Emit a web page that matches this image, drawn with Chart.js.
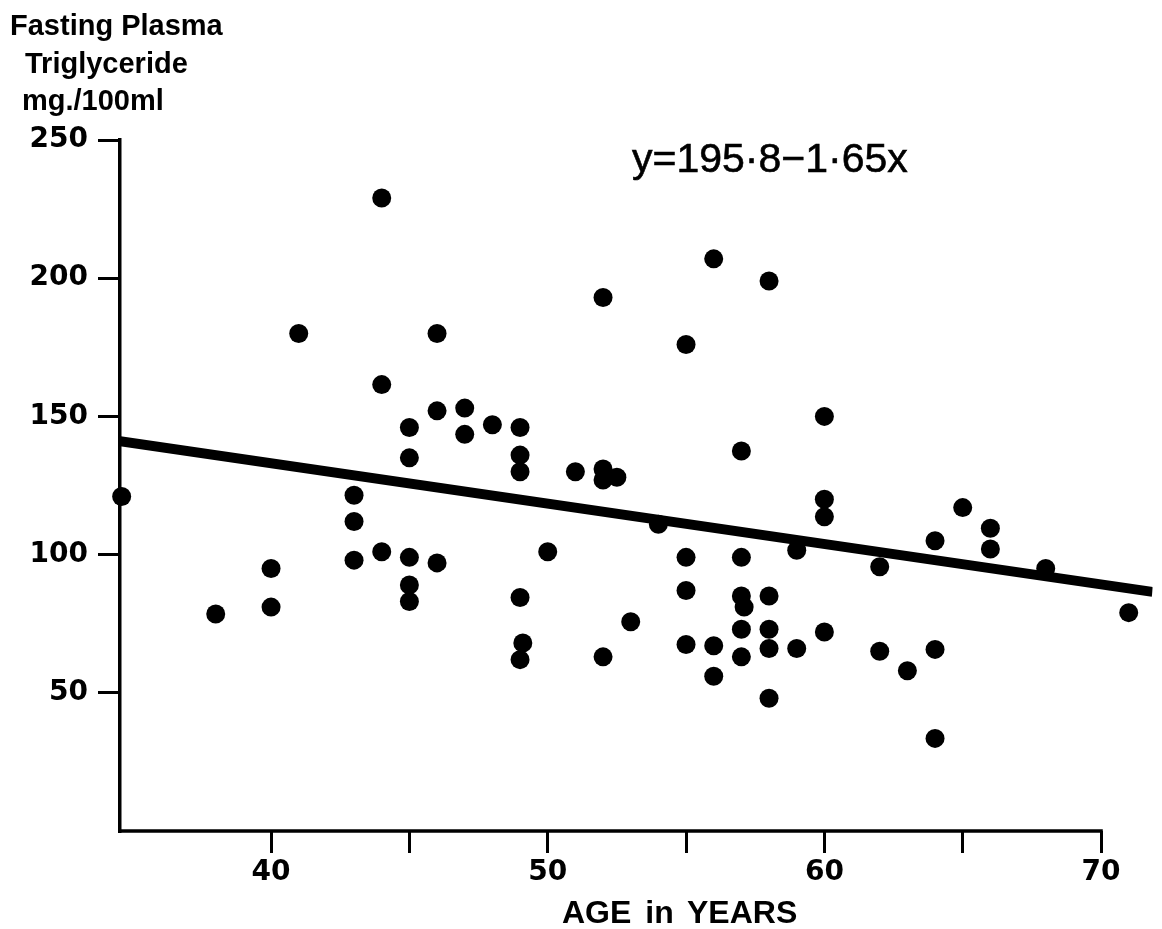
<!DOCTYPE html>
<html>
<head>
<meta charset="utf-8">
<script src="https://cdn.jsdelivr.net/npm/chart.js@4/dist/chart.umd.min.js"></script>
<style>
  html, body { margin: 0; padding: 0; background: #fff; }
  #wrap { position: relative; width: 1162px; height: 929px; }
  .lbl { position: absolute; color: #000; white-space: nowrap; font-family: 'Liberation Sans', Arial, sans-serif; }
  .ylab { font-size: 29px; line-height: 29px; font-weight: bold; }
  #eq { font-size: 41px; line-height: 41px; left: 632px; top: 138px; -webkit-text-stroke: 0.6px #000; }
  #xlab { font-size: 32px; line-height: 32px; font-weight: bold; left: 562px; top: 896px; word-spacing: 5px; }
</style>
</head>
<body>
<div id="wrap">
  <canvas id="grafico"></canvas>
  <div class="lbl ylab" style="left:10px;top:11px">Fasting Plasma</div>
  <div class="lbl ylab" style="left:25px;top:49px">Triglyceride</div>
  <div class="lbl ylab" style="left:22px;top:86px">mg./100ml</div>
  <div class="lbl" id="eq">y=195·8−1·65x</div>
  <div class="lbl" id="xlab">AGE in YEARS</div>
</div>
<script>
// idade (anos) x triglicerídeos em jejum (mg/100ml)
const idades = [
  44, 41, 46, 44, 45, 46, 47, 47, 48, 49, 49, 49, 45, 34.6, 43, 43, 50, 43, 44, 45,
  46, 45, 45, 40, 40, 38, 49, 49.1, 49, 56, 58, 52, 55, 60, 57, 51, 52, 52, 52.5, 54,
  60, 60, 55, 57, 59, 62, 55, 57, 57.1, 58, 53, 52, 55, 56, 57, 57, 58, 58, 59, 60,
  62, 56, 58, 65, 66, 66, 64, 68, 71, 63, 64, 64
];
const triglic = [
  229, 180, 180, 161.5, 146, 152, 153, 143.5, 147, 146, 136, 130, 135, 121, 121.5, 112, 101, 98, 101, 99,
  97, 89, 83, 95, 81, 78.5, 84.5, 68, 62, 207, 199, 193, 176, 150, 137.5, 130, 131, 127, 128, 111,
  120, 113.7, 99, 99, 101.6, 95.6, 87, 85, 81, 85, 75.7, 63, 67.5, 67, 73, 63, 73, 66, 66, 72,
  65, 56, 48, 117, 109.5, 102, 105, 95, 79, 58, 65.7, 33.5
];

// reta de regressão como aparece no desenho (pontas)
const retaX = [34.54, 71.86];
const retaY = [141, 86.5];

// eixos
const xMin = 34.54;
const xMax = 71.86;
const xFimEixo = 70;
const xTicks = [40, 45, 50, 55, 60, 65, 70];
const yTicks = [50, 100, 150, 200, 250];

const pontos = idades.map((x, i) => ({ x: x, y: triglic[i] }));
const reta   = retaX.map((x, i) => ({ x: x, y: retaY[i] }));

// linha do eixo X só até 70, como no original
const eixoX = {
  id: 'eixoX',
  afterDraw(chart) {
    const sx = chart.scales.x, sy = chart.scales.y, ctx = chart.ctx;
    const y0 = sy.getPixelForValue(0);
    ctx.save();
    ctx.strokeStyle = '#000';
    ctx.lineWidth = 3.5;
    ctx.lineCap = 'square';
    ctx.beginPath();
    ctx.moveTo(sx.getPixelForValue(xMin), y0);
    ctx.lineTo(sx.getPixelForValue(xFimEixo), y0);
    ctx.stroke();
    ctx.restore();
  }
};

const fonteTicks = { family: "'DejaVu Sans', sans-serif", size: 28, weight: 'bold' };

new Chart(document.getElementById('grafico').getContext('2d'), {
  type: 'scatter',
  data: {
    datasets: [
      {
        data: pontos,
        backgroundColor: '#000',
        borderWidth: 0,
        pointRadius: 9.5,
        pointHoverRadius: 9.5,
        clip: false
      },
      {
        type: 'line',
        data: reta,
        borderColor: '#000',
        borderWidth: 10,
        pointRadius: 0,
        fill: false,
        tension: 0
      }
    ]
  },
  options: {
    responsive: true,
    maintainAspectRatio: false,
    animation: false,
    layout: { padding: { top: 140, right: 0, bottom: 0, left: 0 } },
    plugins: { legend: { display: false }, tooltip: { enabled: false }, title: { display: false } },
    scales: {
      x: {
        type: 'linear',
        min: xMin,
        max: xMax,
        afterBuildTicks: s => { s.ticks = xTicks.map(v => ({ value: v })); },
        afterFit: s => { s.height = 98; },
        border: { display: false },
        grid: { drawOnChartArea: false, drawTicks: true, tickLength: 22, lineWidth: 3, color: '#000' },
        ticks: {
          color: '#000',
          font: fonteTicks,
          padding: 3,
          maxRotation: 0,
          autoSkip: false,
          callback: v => (v % 10 === 0 ? String(v) : '')
        }
      },
      y: {
        type: 'linear',
        min: 0,
        max: 250,
        afterBuildTicks: s => { s.ticks = yTicks.map(v => ({ value: v })); },
        afterFit: s => { s.width = 120; },
        border: { display: true, color: '#000', width: 3.5 },
        grid: { drawOnChartArea: false, drawTicks: true, tickLength: 22, lineWidth: 3, color: '#000' },
        ticks: { color: '#000', font: fonteTicks, padding: 10, autoSkip: false }
      }
    }
  },
  plugins: [eixoX]
});
</script>
</body>
</html>
